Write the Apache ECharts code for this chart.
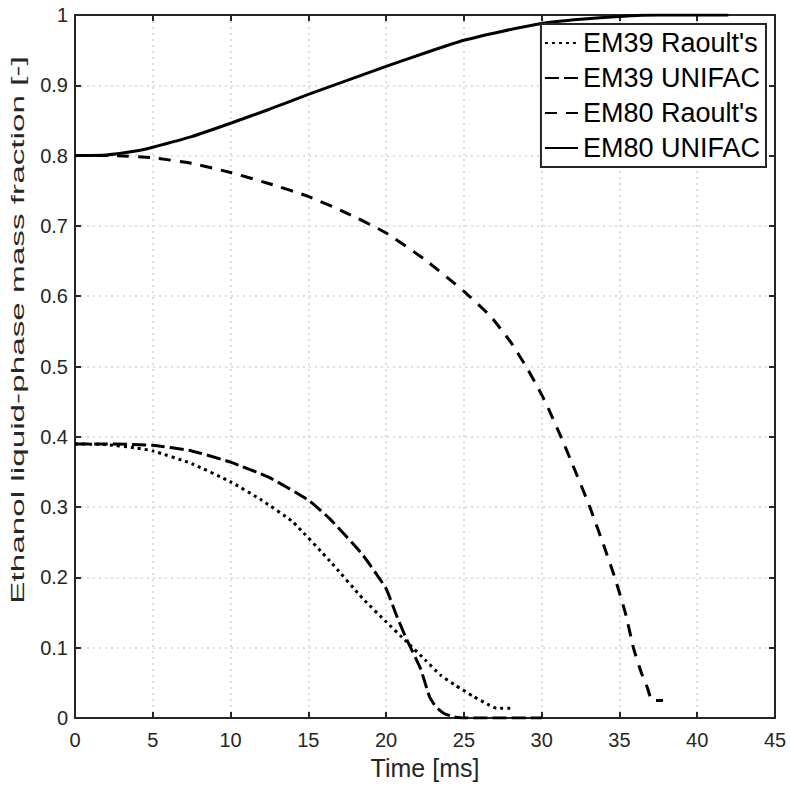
<!DOCTYPE html>
<html>
<head>
<meta charset="utf-8">
<script src="https://cdn.jsdelivr.net/npm/echarts@6/dist/echarts.min.js"></script>
<style>
html,body{margin:0;padding:0;background:#fff;}
#chart{width:790px;height:785px;}
</style>
</head>
<body>
<div id="chart"></div>
<script>
// ---- data ----
const seriesNames = ["EM39 Raoult's", "EM39 UNIFAC", "EM80 Raoult's", "EM80 UNIFAC"];
const xTicks = [0, 5, 10, 15, 20, 25, 30, 35, 40, 45];
const yTicks = [0, 0.1, 0.2, 0.3, 0.4, 0.5, 0.6, 0.7, 0.8, 0.9, 1];
const xTitle = 'Time [ms]';
const yTitle = 'Ethanol liquid-phase mass fraction [-]';

const em39RaoultT = [0, 2, 4, 5, 7.5, 10, 12, 14, 16.4, 18.5, 20, 21.3, 22.5, 23.5, 24.5, 25.6, 26.5, 27.1, 28.1];
const em39RaoultY = [0.39, 0.389, 0.384, 0.380, 0.362, 0.336, 0.310, 0.279, 0.223, 0.170, 0.137, 0.109, 0.083, 0.061, 0.046, 0.031, 0.020, 0.014, 0.014];

const em39UnifacT = [0, 2, 5, 7.5, 10, 12.5, 15, 16.4, 18.5, 20, 20.65, 21.3, 22.2, 22.8, 23.2, 23.7, 24.3, 25, 30];
const em39UnifacY = [0.39, 0.39, 0.388, 0.380, 0.364, 0.342, 0.310, 0.283, 0.232, 0.184, 0.147, 0.113, 0.071, 0.030, 0.016, 0.007, 0.002, 0.0, 0.0];

const em80RaoultT = [0, 2.5, 5, 7.5, 10, 12.5, 15, 17.5, 20, 22.5, 25, 26.7, 28, 29, 30, 30.5, 31.2, 32, 33.1, 34, 34.7, 35.4, 35.9, 36.4, 36.8, 37.1, 37.8];
const em80RaoultY = [0.8, 0.8, 0.797, 0.789, 0.776, 0.760, 0.742, 0.718, 0.690, 0.652, 0.607, 0.572, 0.535, 0.500, 0.460, 0.437, 0.402, 0.360, 0.300, 0.245, 0.200, 0.148, 0.100, 0.065, 0.043, 0.025, 0.025];

const em80UnifacT = [0, 2, 4, 5, 7.5, 10, 12.5, 15, 17.5, 20, 22.5, 25, 27.5, 30, 32.5, 35, 37.5, 40, 42];
const em80UnifacY = [0.8, 0.801, 0.807, 0.812, 0.827, 0.846, 0.866, 0.887, 0.907, 0.927, 0.946, 0.964, 0.977, 0.988, 0.994, 0.998, 1.0, 1.0, 1.0];

// ---- build ----
function zip(t, y) { return t.map((v, i) => [v, y[i]]); }
const FONT = "Liberation Sans";
const AX = '#262626';

const chart = echarts.init(document.getElementById('chart'), null, {renderer: 'svg'});

function lineSeries(name, t, y, type) {
  return {
    name: name, type: 'line', data: zip(t, y), symbol: 'none', showSymbol: false,
    smooth: 0.15, xAxisIndex: 0, yAxisIndex: 0, animation: false,
    lineStyle: {color: '#000', width: 3, type: type, cap: 'butt'},
    itemStyle: {color: '#000'}
  };
}

const xMin = xTicks[0], xMax = xTicks[xTicks.length - 1], xInt = xTicks[1] - xTicks[0];
const yMin = yTicks[0], yMax = yTicks[yTicks.length - 1], yInt = 0.1;

chart.setOption({
  animation: false,
  backgroundColor: '#fff',
  textStyle: {fontFamily: FONT},
  grid: {left: 75, right: 15, top: 15, bottom: 65, containLabel: false},
  legend: {
    orient: 'vertical', right: 24, top: 24,
    backgroundColor: '#fff', borderColor: AX, borderWidth: 2,
    padding: [4, 6, 4, 3],
    itemWidth: 33, itemHeight: 14, itemGap: 5,
    itemStyle: {opacity: 0, borderWidth: 0},
    textStyle: {fontFamily: FONT, fontSize: 27, color: '#000', lineHeight: 30},
    data: seriesNames
  },
  graphic: [{
    type: 'text', z: 10,
    rotation: Math.PI / 2, scaleX: 1.85,
    x: 18, y: 330,
    style: {text: yTitle, font: '18px "Liberation Sans"', fill: AX, align: 'center', verticalAlign: 'middle'}
  }],
  xAxis: [{
    type: 'value', min: xMin, max: xMax, interval: xInt, position: 'bottom',
    name: xTitle, nameLocation: 'middle', nameGap: 25,
    nameTextStyle: {fontFamily: FONT, fontSize: 25, color: AX},
    axisLine: {show: true, onZero: false, lineStyle: {color: AX, width: 2}},
    axisTick: {show: true, inside: true, length: 6, lineStyle: {color: AX, width: 2}},
    axisLabel: {fontFamily: FONT, fontSize: 20, color: AX, margin: 12},
    splitLine: {show: true, lineStyle: {color: '#d4d4d4', type: [2, 4], width: 1.5}}
  }, {
    type: 'value', min: xMin, max: xMax, interval: xInt, position: 'top',
    axisLine: {show: true, onZero: false, lineStyle: {color: AX, width: 2}},
    axisTick: {show: true, inside: true, length: 6, lineStyle: {color: AX, width: 2}},
    axisLabel: {show: false}, splitLine: {show: false}
  }],
  yAxis: [{
    type: 'value', min: yMin, max: yMax, interval: yInt, position: 'left',
    axisLine: {show: true, onZero: false, lineStyle: {color: AX, width: 2}},
    axisTick: {show: true, inside: true, length: 6, lineStyle: {color: AX, width: 2}},
    axisLabel: {fontFamily: FONT, fontSize: 20, color: AX, margin: 7},
    splitLine: {show: true, lineStyle: {color: '#d4d4d4', type: [2, 4], width: 1.5}}
  }, {
    type: 'value', min: yMin, max: yMax, interval: yInt, position: 'right',
    axisLine: {show: true, onZero: false, lineStyle: {color: AX, width: 2}},
    axisTick: {show: true, inside: true, length: 6, lineStyle: {color: AX, width: 2}},
    axisLabel: {show: false}, splitLine: {show: false}
  }],
  series: [
    lineSeries(seriesNames[0], em39RaoultT, em39RaoultY, [3, 4]),
    lineSeries(seriesNames[1], em39UnifacT, em39UnifacY, [14, 5]),
    lineSeries(seriesNames[2], em80RaoultT, em80RaoultY, [12, 9]),
    lineSeries(seriesNames[3], em80UnifacT, em80UnifacY, 'solid')
  ]
});
</script>
</body>
</html>
